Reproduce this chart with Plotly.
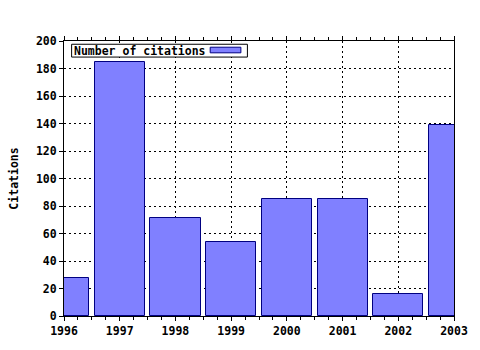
import plotly.graph_objects as go

years = [1996, 1997, 1998, 1999, 2000, 2001, 2002, 2003]
citations = [28, 185, 71, 54, 85, 85, 16, 139]
series_name = "Number of citations"
y_title = "Citations"

FONT = "DejaVu Sans Mono"
fnt = dict(family=FONT, size=11.5, color="black", weight="bold")

fig = go.Figure()
fig.add_trace(go.Bar(
    x=years, y=citations, name=series_name, width=0.9,
    marker=dict(color="#8080FF", line=dict(color="#000080", width=1)),
    showlegend=False,
))

W, H = 480, 350
L, R, T, B = 64, 22, 41, 30
pw, ph = W - L - R, H - T - B

def px(xp):
    return (xp - L) / pw

def py(yp):
    return (H - B - yp) / ph

fig.update_layout(
    width=W, height=H,
    margin=dict(l=L, r=R, t=T, b=B, pad=0),
    paper_bgcolor="white", plot_bgcolor="white",
    font=fnt,
    bargap=0,
    xaxis=dict(
        range=[years[0], years[-1]], tickvals=years, ticktext=[str(y) for y in years],
        showline=True, linecolor="black", linewidth=1, mirror="ticks",
        ticks="outside", ticklen=4, tickcolor="black",
        minor=dict(dtick=0.25, ticks="outside", ticklen=3, tickcolor="black", showgrid=False),
        showgrid=True, gridcolor="black", gridwidth=1, griddash="2px,3px",
        zeroline=False, tickfont=fnt,
    ),
    yaxis=dict(
        range=[0, 200], dtick=20,
        showline=True, linecolor="black", linewidth=1, mirror=True,
        ticks="outside", ticklen=4, tickcolor="black",
        showgrid=True, gridcolor="black", gridwidth=1, griddash="2px,3px",
        zeroline=False, tickfont=fnt,
        title=dict(text=y_title, font=fnt, standoff=14),
    ),
)

# legend box (symbol on the right, as in the reference)
fig.add_shape(
    type="rect", xref="paper", yref="paper",
    x0=px(71.7), x1=px(249.3), y0=py(57.3), y1=py(44.3),
    fillcolor="white", line=dict(color="black", width=1),
)
fig.add_shape(
    type="rect", xref="paper", yref="paper",
    x0=px(211.7), x1=px(242.7), y0=py(53), y1=py(47.3),
    fillcolor="#8080FF", line=dict(color="#000080", width=1),
)
fig.add_annotation(
    xref="paper", yref="paper", x=px(72.5), y=py(50.8),
    xanchor="left", yanchor="middle", showarrow=False,
    text=series_name, align="left", font=fnt,
)

fig.write_html(
    "out.html",
    post_script="document.body.style.margin='0';document.body.style.overflow='hidden';",
)
